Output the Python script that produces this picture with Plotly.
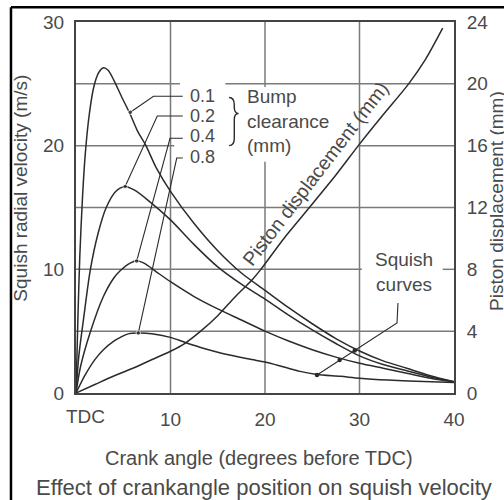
import plotly.graph_objects as go

# Crank angle (degrees before TDC) and squish radial velocity (m/s) for each bump clearance
ang_01 = [0, 0.2, 0.4, 0.7, 1.0, 1.4, 1.9, 2.4, 2.9, 3.4, 4.0, 4.8, 5.7, 6.5, 7.4, 8.5, 10, 12.5,
          15, 17.5, 20, 22.5, 25, 27.5, 30, 32.5, 35, 37.5, 40]
vel_01 = [0, 6, 11, 16, 19.5, 22.5, 24.8, 25.9, 26.3, 26.1, 25.3, 24.0, 22.6, 21.2, 20.0, 18.2, 16.3, 13.7,
          11.5, 9.7, 8.3, 6.9, 5.6, 4.4, 3.4, 2.6, 2.0, 1.4, 0.9]

ang_02 = [0, 0.3, 0.8, 1.5, 2.3, 3.2, 4.2, 5.2, 6.2, 7.6, 10, 12.5, 15, 17.5, 20,
          22.5, 25, 27.5, 30, 32.5, 35, 37.5, 40]
vel_02 = [0, 3, 6, 9.9, 12.8, 15.0, 16.3, 16.7, 16.4, 15.6, 14.0, 12.0, 10.2, 8.8, 7.6,
          6.3, 5.1, 4.0, 3.0, 2.3, 1.8, 1.3, 0.9]

ang_04 = [0, 0.5, 1.5, 2.9, 4.0, 4.7, 5.5, 6.4, 7.2, 8.5, 10, 12.5, 15, 17.5, 20, 22.5,
          25, 27.5, 30, 32.5, 35, 37.5, 40]
vel_04 = [0, 2.2, 4.9, 7.8, 9.3, 9.9, 10.4, 10.7, 10.5, 9.8, 9.0, 7.8, 6.8, 5.9, 5.0, 4.2,
          3.5, 2.9, 2.4, 2.0, 1.6, 1.2, 0.9]

ang_08 = [0, 1, 2, 2.9, 4.0, 4.7, 5.6, 6.6, 8, 10, 11.5, 13.1, 15, 17, 18.6, 20, 22, 23.7, 25.5,
          28, 30, 33, 36, 40]
vel_08 = [0, 1.5, 2.7, 3.5, 4.2, 4.5, 4.8, 4.85, 4.8, 4.5, 4.1, 3.7, 3.3, 2.95, 2.7, 2.5, 2.1, 1.75, 1.5,
          1.35, 1.2, 1.05, 0.95, 0.85]

# Piston displacement (mm) against crank angle
ang_pist = [0, 2, 4, 6.4, 8, 10, 11.5, 13.1, 15, 16.8, 18.6, 19.5, 22, 24.7, 27.5, 30, 32.5, 35.2, 37, 38.8]
disp_pist = [0, 0.55, 1.1, 1.7, 2.15, 2.7, 3.2, 3.95, 5.0, 6.2, 7.3, 7.95, 10.0, 12.0, 14.1, 16.1, 18.0, 20.0, 21.6, 23.6]

clearances = ["0.1", "0.2", "0.4", "0.8"]
x_ticks = [10, 20, 30, 40]
y_ticks = [0, 5, 10, 15, 20, 25, 30]
y_ticktext = ["0", "", "10", "", "20", "", "30"]
y2_ticks = [0, 4, 8, 12, 16, 20, 24]

X_RANGE = [0, 40]
Y_RANGE = [0, 30]

INK = "#2b2b2b"
TXT = "#4a4a4a"
GRID = "#7a7a7a"
FONT = "Liberation Sans, Arial, sans-serif"

# Grid rules are interrupted where the labels sit: {tick value: [(from, to), ...]}
x_grid_breaks = {20: [(18.7, 24.75)]}
y_grid_breaks = {25: [(11.0, 15.8)], 20: [(10.4, 29.85)], 10: [(30.25, 38.8)]}


def grid_segments(lo, hi, breaks):
    segs, start = [], lo
    for b0, b1 in sorted(breaks):
        segs.append((start, b0))
        start = b1
    segs.append((start, hi))
    return segs


fig = go.Figure()

# Grid rules, one line trace per segment, drawn first so the curves sit on top
for xv in x_ticks:
    if X_RANGE[0] < xv < X_RANGE[1]:
        for a, b in grid_segments(Y_RANGE[0], Y_RANGE[1], x_grid_breaks.get(xv, [])):
            fig.add_trace(go.Scatter(x=[xv, xv], y=[a, b], mode="lines",
                                     line=dict(color=GRID, width=1.5),
                                     hoverinfo="skip", showlegend=False))
for yv in y_ticks:
    if Y_RANGE[0] < yv < Y_RANGE[1]:
        for a, b in grid_segments(X_RANGE[0], X_RANGE[1], y_grid_breaks.get(yv, [])):
            fig.add_trace(go.Scatter(x=[a, b], y=[yv, yv], mode="lines",
                                     line=dict(color=GRID, width=1.5),
                                     hoverinfo="skip", showlegend=False))

for xs, ys in [(ang_01, vel_01), (ang_02, vel_02), (ang_04, vel_04), (ang_08, vel_08)]:
    fig.add_trace(go.Scatter(x=xs, y=ys, mode="lines", line=dict(color=INK, width=1.5, shape="spline", smoothing=0.8),
                             hoverinfo="skip", showlegend=False))

fig.add_trace(go.Scatter(x=ang_pist, y=disp_pist, yaxis="y2", mode="lines",
                         line=dict(color=INK, width=1.5, shape="spline", smoothing=0.8),
                         hoverinfo="skip", showlegend=False))

# Leader lines from the clearance labels to each squish curve
leaders = [
    ([11.3, 8.2, 5.75], [24.0, 24.0, 22.7]),
    ([11.3, 8.6, 5.2], [22.4, 22.4, 16.7]),
    ([11.3, 9.95, 6.42], [20.6, 20.6, 10.67]),
    ([11.3, 10.66, 6.59], [19.0, 19.0, 4.85]),
]
for lx, ly in leaders:
    fig.add_trace(go.Scatter(x=lx, y=ly, mode="lines+markers",
                             line=dict(color=INK, width=1.1),
                             marker=dict(size=[0, 0, 4.5], color=INK),
                             hoverinfo="skip", showlegend=False))

# Leader for the "Squish curves" note
fig.add_trace(go.Scatter(x=[34.07, 33.97, 25.5], y=[7.28, 5.66, 1.46], mode="lines",
                         line=dict(color=INK, width=1.1), hoverinfo="skip", showlegend=False))
fig.add_trace(go.Scatter(x=[29.5, 27.9, 25.5], y=[3.44, 2.67, 1.46], mode="markers",
                         marker=dict(size=4.5, color=INK), hoverinfo="skip", showlegend=False))

annotations = []
for lab, yv in zip(clearances, [24.0, 22.4, 20.75, 19.05]):
    annotations.append(dict(x=11.8, y=yv, xref="x", yref="y", text=lab, showarrow=False,
                            xanchor="left", yanchor="middle", font=dict(size=18, color=TXT, family=FONT)))

annotations += [
    dict(x=17.9, y=22.0, xref="x", yref="y", text="Bump<br>clearance<br>(mm)", showarrow=False,
         xanchor="left", yanchor="middle", align="left", font=dict(size=19, color=TXT, family=FONT)),
    dict(x=34.7, y=9.8, xref="x", yref="y", text="Squish<br>curves", showarrow=False,
         xanchor="center", yanchor="middle", align="center", font=dict(size=19, color=TXT, family=FONT)),
    dict(x=25.3, y=17.7, xref="x", yref="y", text="Piston displacement (mm)", showarrow=False,
         textangle=-52.5, xanchor="center", yanchor="middle", font=dict(size=19.5, color=TXT, family=FONT)),
    dict(x=0.026, y=-0.063, xref="paper", yref="paper", text="TDC", showarrow=False,
         xanchor="center", yanchor="middle", font=dict(size=19, color=TXT, family=FONT)),
    dict(x=-0.146, y=0.553, xref="paper", yref="paper", text="Squish radial velocity (m/s)", showarrow=False,
         textangle=-90, xanchor="center", yanchor="middle", font=dict(size=19, color=TXT, family=FONT)),
    dict(x=1.114, y=0.518, xref="paper", yref="paper", text="Piston displacement (mm)", showarrow=False,
         textangle=-90, xanchor="center", yanchor="middle", font=dict(size=19, color=TXT, family=FONT)),
    dict(x=0.484, y=-0.175, xref="paper", yref="paper", text="Crank angle (degrees before TDC)", showarrow=False,
         xanchor="center", yanchor="middle", font=dict(size=20, color=TXT, family=FONT)),
    dict(x=0.497, y=-0.256, xref="paper", yref="paper", text="Effect of crankangle position on squish velocity",
         showarrow=False, xanchor="center", yanchor="middle", font=dict(size=22, color=TXT, family=FONT)),
]

shapes = [
    # brace grouping the clearance labels
    dict(type="path", xref="x", yref="y", layer="above", line=dict(color=INK, width=1.4),
         path="M 16.2,23.9 Q 16.75,23.9 16.75,23.3 L 16.75,23.1 Q 16.75,22.6 17.2,22.6 "
              "Q 16.75,22.6 16.75,22.1 L 16.75,20.6 Q 16.75,20.0 16.2,20.0"),
    # outer frame
    dict(type="line", xref="paper", yref="paper", x0=-0.172, x1=1.2, y0=1.040, y1=1.040,
         line=dict(color="black", width=2.5)),
    dict(type="line", xref="paper", yref="paper", x0=-0.172, x1=-0.172, y0=1.040, y1=-0.3,
         line=dict(color="black", width=2.5)),
]

fig.update_layout(
    template="none",
    width=504, height=500,
    margin=dict(l=76, r=50, t=22, b=107),
    paper_bgcolor="white", plot_bgcolor="white",
    showlegend=False,
    font=dict(family=FONT, size=19, color=TXT),
    xaxis=dict(range=X_RANGE, tickmode="array", tickvals=x_ticks, ticktext=[str(v) for v in x_ticks],
               showgrid=False, zeroline=False,
               showline=True, linecolor="#444", linewidth=2, mirror=True,
               ticks="outside", ticklen=8, tickcolor="rgba(0,0,0,0)", tickfont=dict(size=19, color=TXT)),
    yaxis=dict(range=Y_RANGE, tickmode="array", tickvals=y_ticks, ticktext=y_ticktext,
               showgrid=False, zeroline=False,
               showline=True, linecolor="#444", linewidth=2, mirror=True,
               ticks="outside", ticklen=6, tickcolor="rgba(0,0,0,0)", tickfont=dict(size=19, color=TXT)),
    yaxis2=dict(range=[0, 24], tickmode="array", tickvals=y2_ticks, overlaying="y", side="right",
                showgrid=False, zeroline=False, showline=False,
                ticks="outside", ticklen=8, tickcolor="rgba(0,0,0,0)", tickfont=dict(size=19, color=TXT)),
    annotations=annotations,
    shapes=shapes,
)

fig.write_html("out.html")
